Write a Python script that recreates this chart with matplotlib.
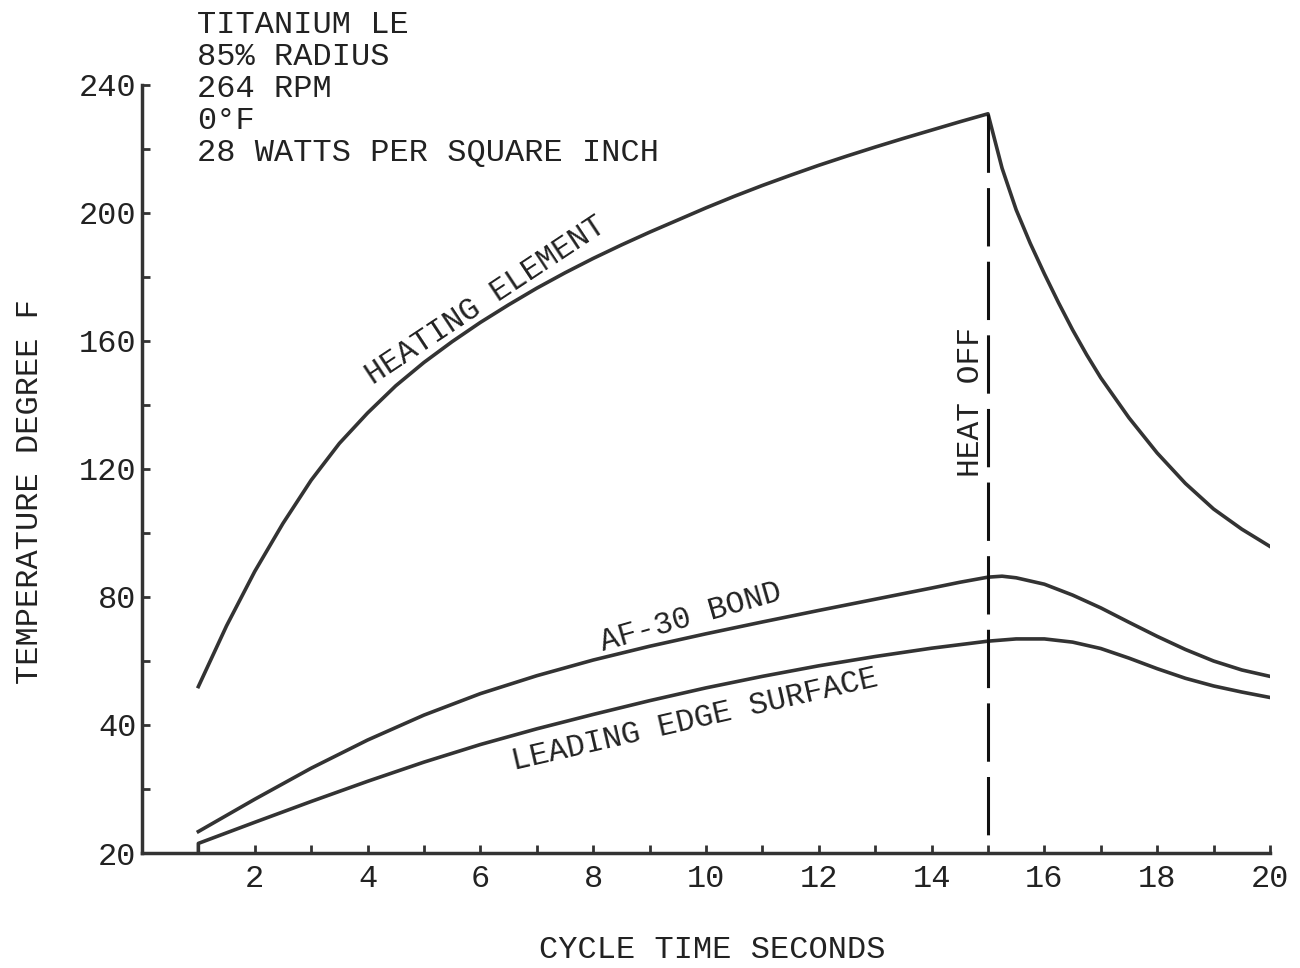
import matplotlib
matplotlib.use("Agg")
import matplotlib.pyplot as plt

plt.rcParams['font.family'] = ['Liberation Mono', 'DejaVu Sans Mono']
plt.rcParams['lines.scale_dashes'] = False

# data (axis units: x seconds, y read on a linear 0..240 scale)
heat_x = [1.0, 1.5, 2.0, 2.5, 3.0, 3.5, 4.0, 4.5, 5.0, 5.5, 6.0, 6.5, 7.0, 7.5, 8.0,
          8.5, 9.0, 9.5, 10.0, 10.5, 11.0, 11.5, 12.0, 12.5, 13.0, 13.5, 14.0, 14.5,
          15.0, 15.25, 15.5, 15.75, 16.0, 16.25, 16.5, 16.75, 17.0, 17.5, 18.0, 18.5,
          19.0, 19.5, 20.0]
heat_y = [52, 71, 88, 103, 116.5, 128, 137.5, 146, 153.3, 159.8, 165.8, 171.3, 176.5, 181.3, 185.8,
          190, 194, 197.8, 201.6, 205.2, 208.6, 211.8, 214.9, 217.8, 220.6, 223.3, 225.9, 228.5,
          231, 214, 201, 190.5, 181, 172, 163.5, 155.7, 148.5, 136, 125, 115.5,
          107.5, 101.2, 95.8]

af_x = [1, 2, 3, 4, 5, 6, 7, 8, 9, 10, 11, 12, 13, 14, 14.5, 15, 15.25, 15.5,
        16, 16.5, 17, 17.5, 18, 18.5, 19, 19.5, 20]
af_y = [6.7, 16.8, 26.5, 35.3, 43.1, 49.8, 55.4, 60.3, 64.6, 68.5, 72.2, 75.8, 79.3, 82.8,
        84.6, 86.2, 86.5, 86.0, 84.0, 80.6, 76.6, 72.1, 67.7, 63.6, 60.0, 57.2, 55.2]

le_x = [1, 1, 2, 3, 4, 5, 6, 7, 8, 9, 10, 11, 12, 13, 14, 15, 15.5, 16, 16.5,
        17, 17.5, 18, 18.5, 19, 19.5, 20]
le_y = [0, 3.0, 9.6, 16.1, 22.4, 28.4, 33.9, 38.8, 43.3, 47.6, 51.6, 55.2, 58.5, 61.4,
        64.0, 66.2, 66.9, 66.9, 65.9, 63.9, 60.9, 57.6, 54.6, 52.2, 50.3, 48.6]

heat_off_x = 15.0
heat_off_y = [231, 2]

xtick_major = [2, 4, 6, 8, 10, 12, 14, 16, 18, 20]
xtick_minor = [1, 3, 5, 7, 9, 11, 13, 15, 17, 19]
ytick_major = [0, 40, 80, 120, 160, 200, 240]
ytick_labels = ['20', '40', '80', '120', '160', '200', '240']
ytick_minor = [20, 60, 100, 140, 180, 220]

notes = ['TITANIUM LE', '85% RADIUS', '264 RPM', '0\u00b0F', '28 WATTS PER SQUARE INCH']

ink = '#333333'
txt = '#222222'
fs = 23

fig = plt.figure(figsize=(13, 9.68), dpi=100)
ax = fig.add_axes([0.1092, 0.1188, 0.8677, 0.7934])

ax.plot(heat_x, heat_y, color=ink, lw=2.6, solid_joinstyle='round')
ax.plot(af_x, af_y, color=ink, lw=2.6, solid_joinstyle='round')
ax.plot(le_x, le_y, color=ink, lw=2.6, solid_joinstyle='round')
ax.plot([heat_off_x, heat_off_x], heat_off_y, color='#111111', lw=2.2,
        linestyle=(0, (42, 11)))

ax.set_xlim(0, 20)
ax.set_ylim(0, 240)
for s in ['top', 'right']:
    ax.spines[s].set_visible(False)
for s in ['left', 'bottom']:
    ax.spines[s].set_linewidth(2.5)
    ax.spines[s].set_color(ink)

ax.set_xticks(xtick_major)
ax.set_xticks(xtick_minor, minor=True)
ax.set_yticks(ytick_major)
ax.set_yticklabels(ytick_labels)
ax.set_yticks(ytick_minor, minor=True)
ax.tick_params(which='both', direction='in', length=6, width=2, color=ink,
               labelsize=fs, labelcolor=txt)
ax.tick_params(axis='x', pad=8)
ax.tick_params(axis='y', pad=4)

# curve labels
ax.text(6.1, 172.5, 'HEATING ELEMENT', rotation=33.5, ha='center', va='center',
        fontsize=fs - 0.5, color=txt, rotation_mode='anchor')
ax.text(9.73, 73.5, 'AF-30 BOND', rotation=16, ha='center', va='center',
        fontsize=fs - 0.5, color=txt, rotation_mode='anchor')
ax.text(9.8, 41.5, 'LEADING EDGE SURFACE', rotation=13, ha='center', va='center',
        fontsize=fs - 0.5, color=txt, rotation_mode='anchor')
ax.text(14.7, 141, 'HEAT OFF', rotation=90, ha='center', va='center',
        fontsize=fs - 0.5, color=txt)

for i, line in enumerate(notes):
    fig.text(197 / 1300, 1 - (25 + 32 * i) / 968, line, ha='left', va='center',
             fontsize=fs, color=txt)

fig.text(30 / 1300, 1 - 492 / 968, 'TEMPERATURE DEGREE F', rotation=90,
         ha='center', va='center', fontsize=fs, color=txt)
fig.text(712 / 1300, 1 - 950 / 968, 'CYCLE TIME SECONDS', ha='center', va='center',
         fontsize=fs, color=txt)

fig.savefig('out.png', dpi=100, facecolor='white')
